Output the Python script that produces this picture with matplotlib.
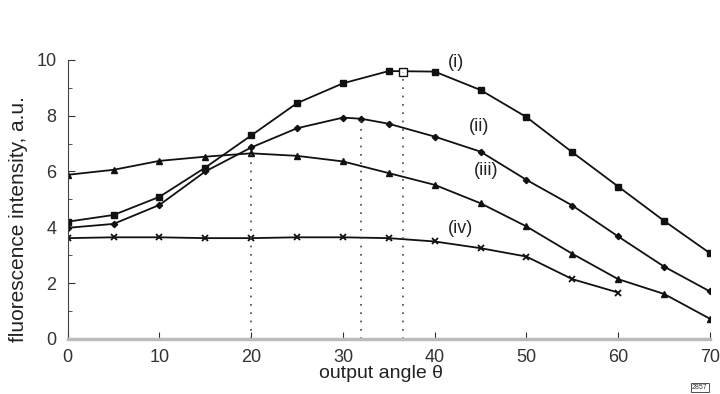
import matplotlib.pyplot as plt

plt.rcParams['font.family'] = ['Liberation Sans', 'DejaVu Sans']

angle = [0, 5, 10, 15, 20, 25, 30, 35, 40, 45, 50, 55, 60, 65, 70]
curve_i = [4.2, 4.44, 5.09, 6.14, 7.29, 8.45, 9.16, 9.6, 9.58, 8.92, 7.95, 6.69, 5.46, 4.23, 3.07]
angle_ii = [0, 5, 10, 15, 20, 25, 30, 32, 35, 40, 45, 50, 55, 60, 65, 70]
curve_ii = [3.98, 4.12, 4.8, 6.0, 6.86, 7.55, 7.93, 7.89, 7.71, 7.25, 6.71, 5.7, 4.78, 3.67, 2.59, 1.7]
curve_iii = [5.88, 6.06, 6.38, 6.53, 6.65, 6.56, 6.36, 5.94, 5.52, 4.86, 4.03, 3.05, 2.14, 1.61, 0.72]
angle_iv = [0, 5, 10, 15, 20, 25, 30, 35, 40, 45, 50, 55, 60]
curve_iv = [3.61, 3.64, 3.64, 3.61, 3.61, 3.64, 3.64, 3.61, 3.49, 3.25, 2.95, 2.14, 1.66]

# dotted markers of the peak angles
peak_x = [20, 32, 36.5]
peak_y = [6.65, 7.9, 9.55]
labels = ['(i)', '(ii)', '(iii)', '(iv)']
label_pos = [(42.3, 9.9), (44.8, 7.6), (45.6, 6.05), (42.8, 3.95)]

fig = plt.figure(figsize=(7.2, 3.94), dpi=100)
ax = fig.add_axes([0.094, 0.14, 0.892, 0.708])

ink = '#111111'
ax.plot(angle, curve_i, '-s', color=ink, lw=1.3, ms=4.5)
ax.plot(angle_ii, curve_ii, '-D', color=ink, lw=1.3, ms=3.2)
ax.plot(angle, curve_iii, '-^', color=ink, lw=1.3, ms=4.5)
ax.plot(angle_iv, curve_iv, '-x', color=ink, lw=1.3, ms=4.5, mew=1.3)
ax.plot([36.5], [9.55], 's', mfc='white', mec=ink, ms=6, mew=1)

for px, py in zip(peak_x, peak_y):
    ax.plot([px, px], [0, py], color='#444444', lw=1.2, ls=(0, (1, 4)))

for lab, (lx, ly) in zip(labels, label_pos):
    ax.text(lx, ly, lab, fontsize=13, color='#222222', ha='center', va='center')

ax.set_xlim(0, 70)
ax.set_ylim(0, 10)
ax.set_xticks(range(0, 71, 10))
ax.set_yticks(range(0, 11, 2))
ax.set_yticks(range(1, 10, 2), minor=True)
ax.tick_params(direction='in', labelsize=13, colors='#333333', length=5)
ax.tick_params(axis='x', pad=7)
ax.tick_params(axis='y', pad=8)
ax.tick_params(which='minor', direction='in', length=3, color='#333333')
for s in ['top', 'right']:
    ax.spines[s].set_visible(False)
ax.spines['left'].set_color('#444444')
ax.spines['bottom'].set_color('#bbbbbb')
ax.spines['bottom'].set_linewidth(2.5)

ax.set_xlabel('output angle θ', fontsize=14, color='#222222')
ax.set_ylabel('fluorescence intensity, a.u.', fontsize=15, color='#222222')
ax.xaxis.set_label_coords(0.487, -0.092)
ax.yaxis.set_label_coords(-0.062, 0.43)

fig.text(0.972, 0.012, '2857', fontsize=5, color='#333333', ha='center',
         bbox=dict(boxstyle='square,pad=0.15', fc='white', ec='#333333', lw=0.6))

fig.savefig('out.png', dpi=100)
